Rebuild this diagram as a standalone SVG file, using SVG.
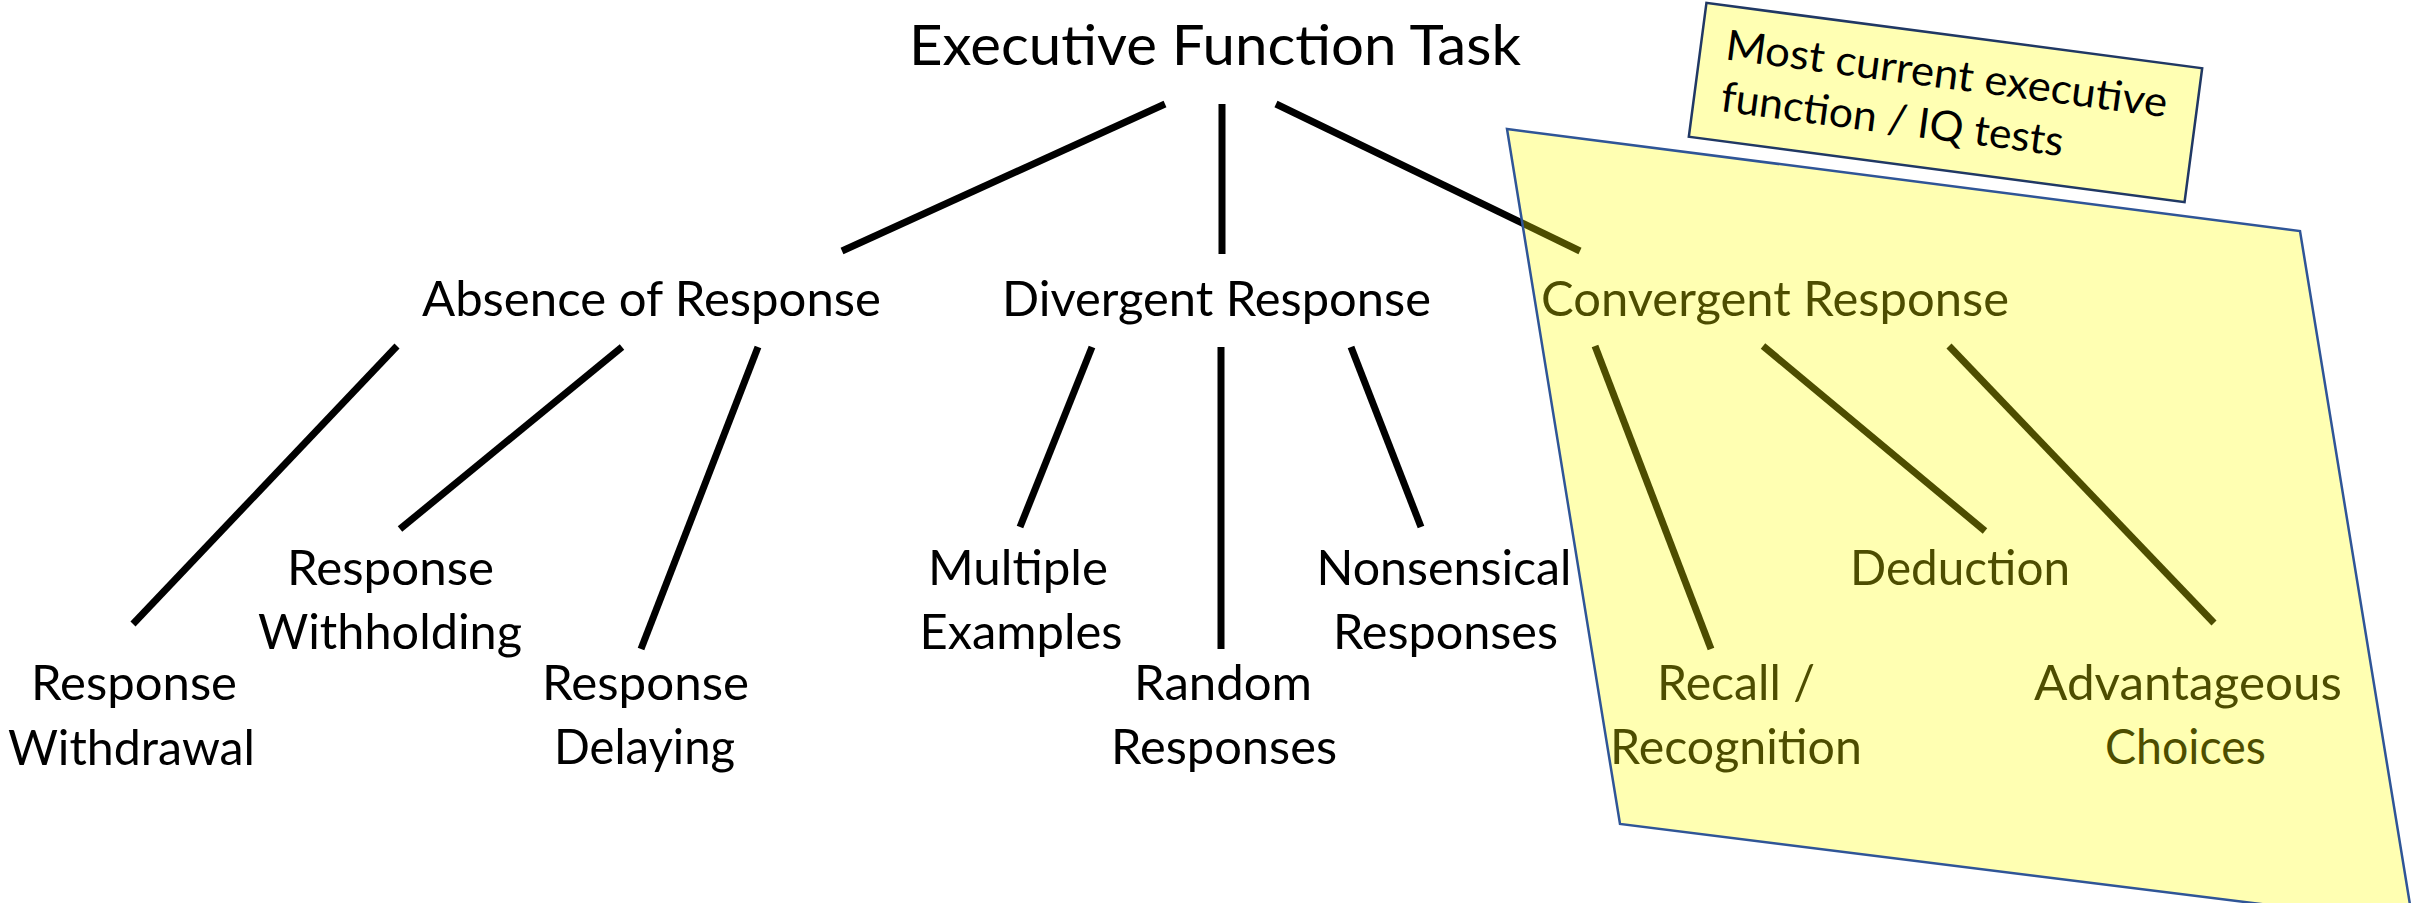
<svg xmlns="http://www.w3.org/2000/svg" width="2414" height="903" viewBox="0 0 2414 903">
<style>
  .t { font-family: Lato, "Open Sans", "Liberation Sans", sans-serif; fill: #000; text-anchor: middle; }
  .title { font-size: 56px; }
  .lbl { font-size: 49px; }
  .note { font-family: Lato, "Open Sans", "Liberation Sans", sans-serif; font-size: 42px; fill: #000; }
  .conn line { stroke: #000; stroke-width: 7; stroke-linecap: butt; }
</style>
<rect width="2414" height="903" fill="#fff"/>

<g id="connectors" class="conn">
  <line x1="1165" y1="104" x2="842" y2="251"/>
  <line x1="1222" y1="104" x2="1222" y2="254"/>
  <line x1="1276" y1="104" x2="1580" y2="251"/>
  <line x1="397" y1="346" x2="133" y2="624"/>
  <line x1="622" y1="347" x2="400" y2="529"/>
  <line x1="758" y1="347" x2="641" y2="649"/>
  <line x1="1092" y1="347" x2="1020" y2="527"/>
  <line x1="1221" y1="347" x2="1221" y2="649"/>
  <line x1="1351" y1="347" x2="1421" y2="527"/>
  <line x1="1595" y1="346" x2="1711" y2="649"/>
  <line x1="1763" y1="346" x2="1985" y2="531"/>
  <line x1="1949" y1="346" x2="2214" y2="623"/>
</g>

<g id="executive-function-task"><text class="t title" x="1215" y="65" textLength="612" lengthAdjust="spacingAndGlyphs">Executive Function Task</text></g>
<g id="absence-of-response"><text class="t lbl" x="651.5" y="316" textLength="459" lengthAdjust="spacingAndGlyphs">Absence of Response</text></g>
<g id="divergent-response"><text class="t lbl" x="1216.5" y="316" textLength="429" lengthAdjust="spacingAndGlyphs">Divergent Response</text></g>
<g id="convergent-response"><text class="t lbl" x="1775" y="316" textLength="468" lengthAdjust="spacingAndGlyphs">Convergent Response</text></g>

<g id="response-withdrawal">
  <text class="t lbl" x="134" y="700" textLength="206" lengthAdjust="spacingAndGlyphs">Response</text>
  <text class="t lbl" x="131.5" y="765" textLength="247" lengthAdjust="spacingAndGlyphs">Withdrawal</text>
</g>
<g id="response-withholding">
  <text class="t lbl" x="390.5" y="585" textLength="207" lengthAdjust="spacingAndGlyphs">Response</text>
  <text class="t lbl" x="390" y="649" textLength="264" lengthAdjust="spacingAndGlyphs">Withholding</text>
</g>
<g id="response-delaying">
  <text class="t lbl" x="645.5" y="700" textLength="207" lengthAdjust="spacingAndGlyphs">Response</text>
  <text class="t lbl" x="644.5" y="764" textLength="181" lengthAdjust="spacingAndGlyphs">Delaying</text>
</g>
<g id="multiple-examples">
  <text class="t lbl" x="1018" y="585" textLength="180" lengthAdjust="spacingAndGlyphs">Multiple</text>
  <text class="t lbl" x="1021" y="649" textLength="203" lengthAdjust="spacingAndGlyphs">Examples</text>
</g>
<g id="random-responses">
  <text class="t lbl" x="1223" y="700" textLength="178" lengthAdjust="spacingAndGlyphs">Random</text>
  <text class="t lbl" x="1224" y="764" textLength="226" lengthAdjust="spacingAndGlyphs">Responses</text>
</g>
<g id="nonsensical-responses">
  <text class="t lbl" x="1444" y="585" textLength="255" lengthAdjust="spacingAndGlyphs">Nonsensical</text>
  <text class="t lbl" x="1445.5" y="649" textLength="225" lengthAdjust="spacingAndGlyphs">Responses</text>
</g>
<g id="recall-recognition">
  <text class="t lbl" x="1736" y="700" textLength="158" lengthAdjust="spacingAndGlyphs">Recall /</text>
  <text class="t lbl" x="1736" y="764" textLength="252" lengthAdjust="spacingAndGlyphs">Recognition</text>
</g>
<g id="deduction"><text class="t lbl" x="1960" y="585" textLength="220" lengthAdjust="spacingAndGlyphs">Deduction</text></g>
<g id="advantageous-choices">
  <text class="t lbl" x="2188" y="700" textLength="308" lengthAdjust="spacingAndGlyphs">Advantageous</text>
  <text class="t lbl" x="2185.5" y="764" textLength="161" lengthAdjust="spacingAndGlyphs">Choices</text>
</g>

<g id="convergent-highlight">
  <polygon points="1507,129 2300,231 2413,923 1620,824" fill="#FFFF00" fill-opacity="0.3" stroke="#2F5597" stroke-width="2.5" stroke-linejoin="miter"/>
</g>

<g id="note-current-tests" transform="translate(1945.5,102.5) rotate(7.5)">
  <rect x="-250" y="-67.5" width="500" height="135" fill="#FFFFB3" stroke="#203864" stroke-width="2.5"/>
  <text class="note" x="-225" y="-14" textLength="445" lengthAdjust="spacingAndGlyphs">Most current executive</text>
  <text class="note" x="-223" y="38" textLength="345" lengthAdjust="spacingAndGlyphs">function / IQ tests</text>
</g>
</svg>
